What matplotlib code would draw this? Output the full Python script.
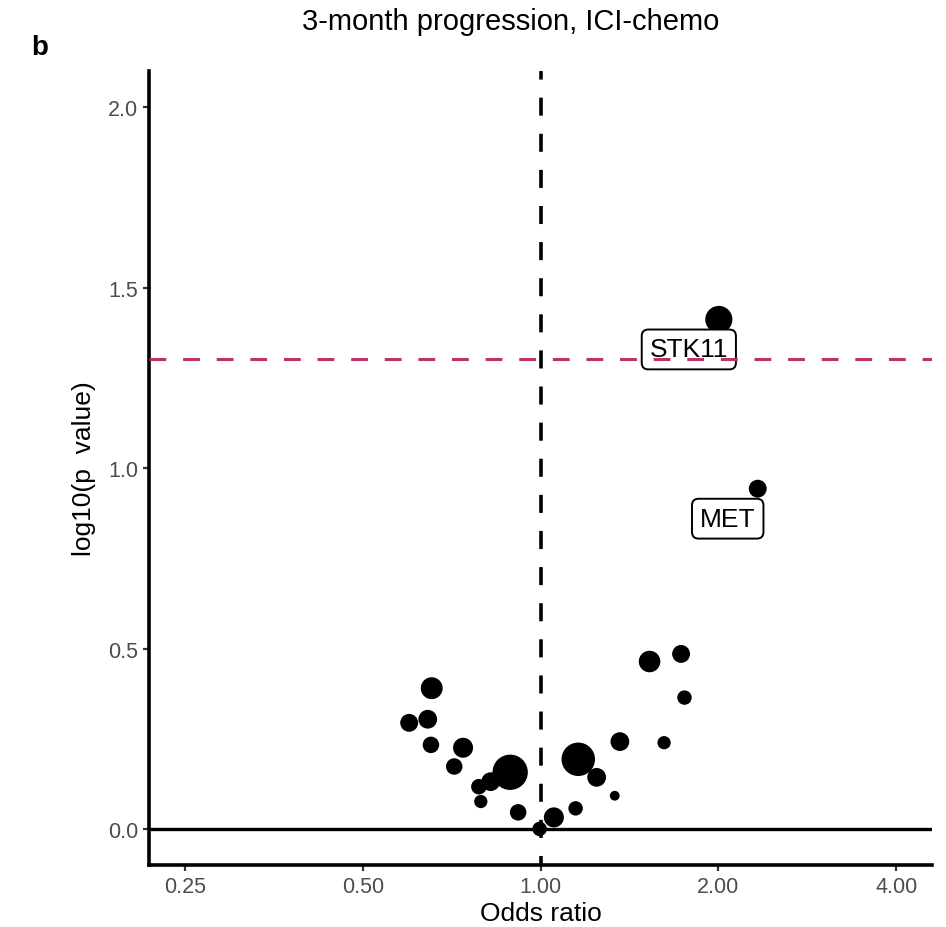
"""Volcano-style plot: 3-month progression, ICI-chemo (panel b)."""

import matplotlib
matplotlib.use("Agg")
import matplotlib.pyplot as plt
import numpy as np

plt.rcParams["font.family"] = ["Liberation Sans", "DejaVu Sans"]

# --- Data ---
genes = ["", "", "", "", "", "", "", "", "", "", "", "",
         "", "", "", "", "", "", "", "", "", "", "STK11", "MET"]
odds_ratio = [0.654, 0.599, 0.644, 0.652, 0.739, 0.714, 0.786, 0.823, 0.888, 0.792,
              0.916, 0.996, 1.053, 1.146, 1.158, 1.244, 1.335, 1.362, 1.529, 1.729,
              1.752, 1.618, 2.003, 2.331]
neg_log10_p = [0.390, 0.294, 0.304, 0.233, 0.225, 0.173, 0.117, 0.131, 0.157, 0.076,
               0.046, 0.000, 0.032, 0.057, 0.193, 0.143, 0.092, 0.242, 0.464, 0.485,
               0.364, 0.239, 1.412, 0.943]
n_mutated = [30, 20, 22, 17, 25, 17, 15, 22, 78, 11,
             17, 13, 25, 13, 70, 22, 6, 22, 29, 20,
             13, 11, 46, 20]

x_ticks = [0.25, 0.5, 1.0, 2.0, 4.0]
x_ticklabels = ["0.25", "0.50", "1.00", "2.00", "4.00"]
y_ticks = [0.0, 0.5, 1.0, 1.5, 2.0]
y_ticklabels = ["0.0", "0.5", "1.0", "1.5", "2.0"]
p_cut = 0.05


def main() -> None:
    fig = plt.figure(figsize=(9.46, 9.28), dpi=100)
    ax = fig.add_axes([0.158, 0.0668, 0.827, 0.8554])

    ax.set_xscale("log", base=2)
    ax.set_xlim(2 ** -2.2, 2 ** 2.2)
    ax.set_ylim(-0.1, 2.1)

    # reference lines
    ax.axhline(0, color="black", lw=2.4, zorder=1)
    ax.axvline(1.0, color="black", lw=2.6, ls=(2.5, (5.0, 5.0)), zorder=1)

    # points (area ~ number mutated)
    sizes = 8.3 * np.array(n_mutated)
    ax.scatter(odds_ratio, neg_log10_p, s=sizes, color="black",
               edgecolors="none", zorder=3)

    # labels
    for g, x, y in zip(genes, odds_ratio, neg_log10_p):
        if not g:
            continue
        ax.annotate(g, (x, y), xytext=(-21.6, -21.6), textcoords="offset points",
                    ha="center", va="center", fontsize=19, zorder=4,
                    bbox=dict(boxstyle="round,pad=0.3,rounding_size=0.25",
                              fc="white", ec="black", lw=1.4))

    # significance threshold, drawn over the labels
    ax.axhline(-np.log10(p_cut), color="#B8336A", lw=2.2,
               ls=(0, (5.5, 5.5)), zorder=5)

    ax.set_xticks(x_ticks)
    ax.set_xticklabels(x_ticklabels)
    ax.xaxis.set_minor_locator(matplotlib.ticker.NullLocator())
    ax.set_yticks(y_ticks)
    ax.set_yticklabels(y_ticklabels)
    ax.tick_params(axis="both", labelsize=15.5, labelcolor="#4D4D4D",
                   color="#333333", length=4, width=1.6, pad=4)

    for side in ["top", "right"]:
        ax.spines[side].set_visible(False)
    for side in ["left", "bottom"]:
        ax.spines[side].set_linewidth(2.6)

    ax.set_xlabel("Odds ratio", fontsize=19, labelpad=3)
    ax.set_ylabel("log10(p  value)", fontsize=19, labelpad=9)

    fig.text(0.540, 1 - 22 / 928, "3-month progression, ICI-chemo",
             ha="center", va="center", fontsize=21)
    fig.text(40 / 946, 1 - 48 / 928, "b", ha="center", va="center",
             fontsize=20, fontweight="bold")

    fig.savefig("out.png", dpi=100)
    plt.close(fig)


if __name__ == "__main__":
    main()
